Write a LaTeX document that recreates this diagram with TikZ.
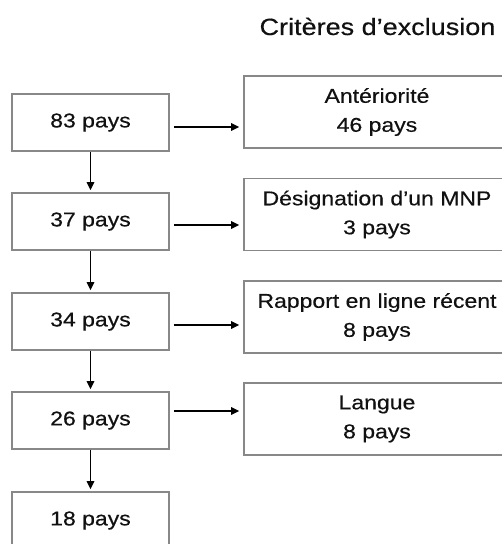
\documentclass[tikz,border=0pt]{standalone}
\usepackage{fontspec}
\setmainfont{Liberation Sans}[FakeStretch=1.15,FakeBold=0.4]
\usetikzlibrary{arrows.meta}
\definecolor{boxgray}{HTML}{888888}
\definecolor{txt}{HTML}{111111}
\tikzset{
  x=1pt,y=1pt,
  lbox/.style={draw=boxgray, line width=1.8pt, minimum width=157pt, minimum height=57pt, inner sep=0pt, text=txt, font=\fontsize{20}{24}\selectfont},
  rbox/.style={draw=boxgray, line width=1.8pt, minimum width=266pt, minimum height=72pt, inner sep=0pt, text=txt, align=center, font=\fontsize{20}{29}\selectfont},
  arr/.style={line width=1.5pt, -{Triangle[length=8pt,width=7.5pt]}},
}
\begin{document}
\begin{tikzpicture}
\clip (0,0) rectangle (502,544);
\useasboundingbox (0,0) rectangle (502,544);
\fill[white] (0,0) rectangle (502,544);
\node[anchor=base, text=txt, font=\fontsize{23.5}{28}\selectfont] (title) at (377.5,509) {Critères d’exclusion};
% left column
\node[lbox] (l1) at (90.5,421.5) {83 pays};
\node[lbox] (l2) at (90.5,322.5) {37 pays};
\node[lbox] (l3) at (90.5,222.5) {34 pays};
\node[lbox] (l4) at (90.5,123.5) {26 pays};
\node[lbox] (l5) at (90.5,23.5) {18 pays};
% right column
\node[rbox] (r1) at (377,432) {Antériorité\\46 pays};
\node[rbox] (r2) at (377,329.5) {Désignation d’un MNP\\3 pays};
\node[rbox] (r3) at (377,227) {Rapport en ligne récent\\8 pays};
\node[rbox] (r4) at (377,125) {Langue\\8 pays};
% vertical arrows
\foreach \a/\b in {l1/l2,l2/l3,l3/l4,l4/l5}
  \draw[arr, shorten >=2pt] (\a) -- (\b);
% horizontal arrows
\draw[arr, shorten <=4pt, shorten >=4pt] (l1.east |- 0,417) -- (r1.west |- 0,417);
\draw[arr, shorten <=4pt, shorten >=4pt] (l2.east |- 0,319) -- (r2.west |- 0,319);
\draw[arr, shorten <=4pt, shorten >=4pt] (l3.east |- 0,219) -- (r3.west |- 0,219);
\draw[arr, shorten <=4pt, shorten >=4pt] (l4.east |- 0,133) -- (r4.west |- 0,133);
\end{tikzpicture}
\end{document}
